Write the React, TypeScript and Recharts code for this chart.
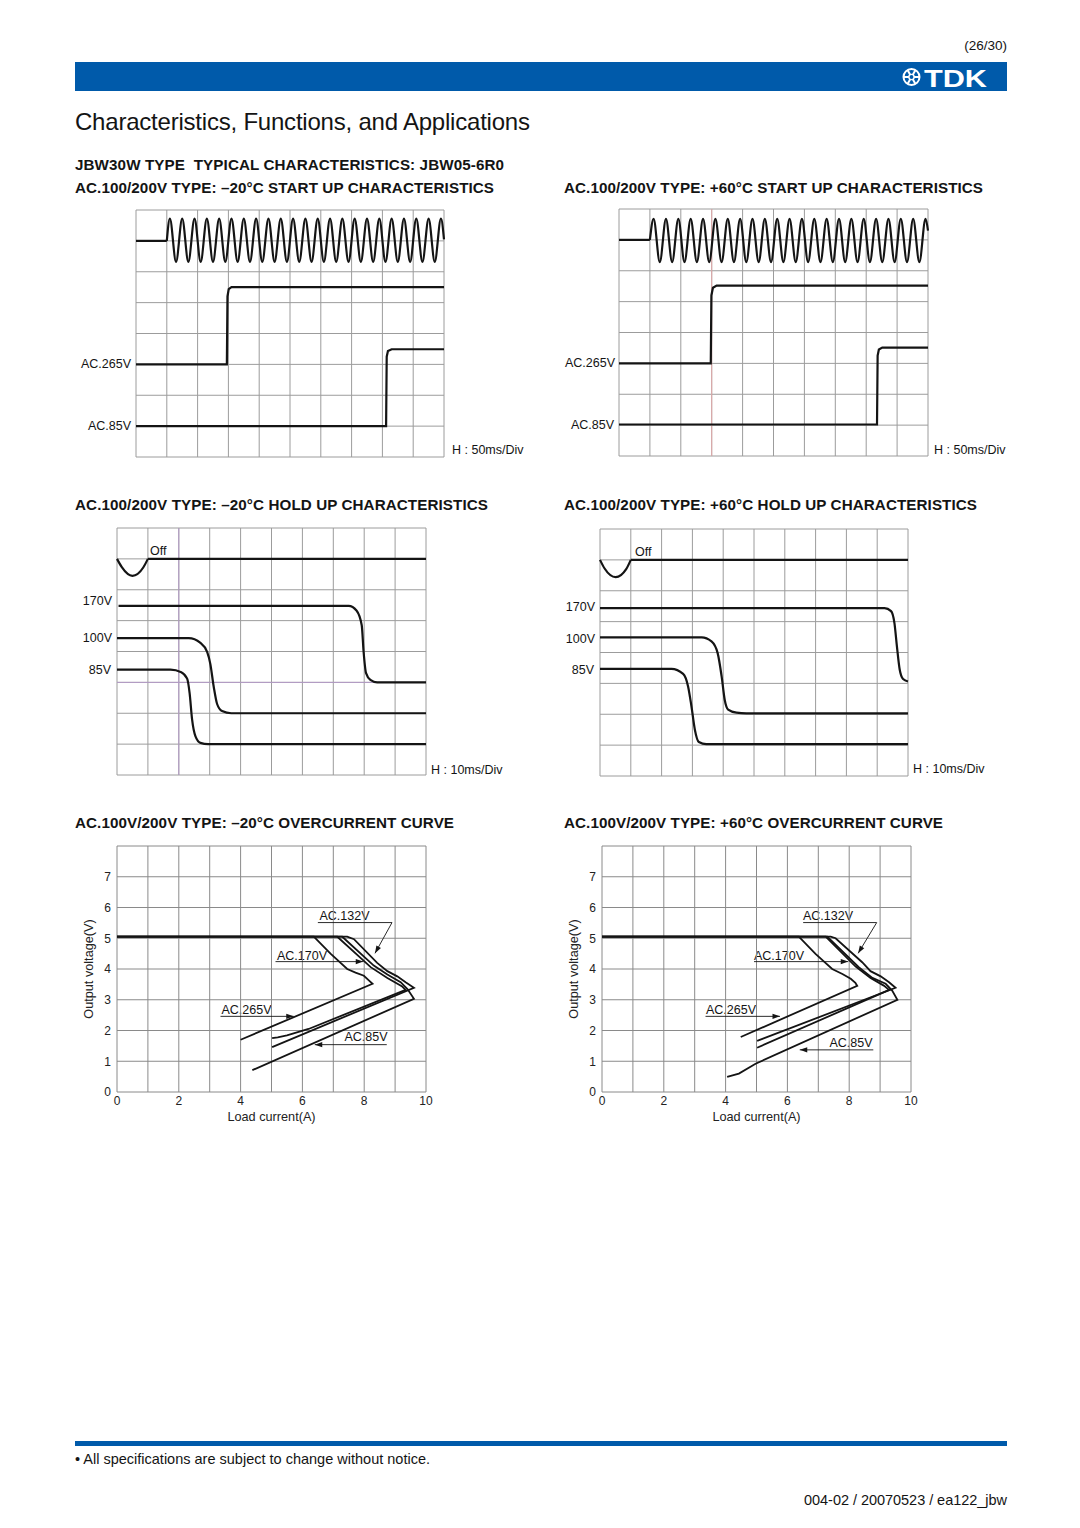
import React from 'react';
import { LineChart, Line, XAxis, YAxis, CartesianGrid, ReferenceLine } from 'recharts';

type Pt = [number, number];

// ---------- grid ticks ----------
const scopeXTicks = [0, 1, 2, 3, 4, 5, 6, 7, 8, 9, 10];
const scopeYTicks = [0, 1, 2, 3, 4, 5, 6, 7, 8];
const ocXTicks = [0, 1, 2, 3, 4, 5, 6, 7, 8, 9, 10];
const ocYTicks = [0, 1, 2, 3, 4, 5, 6, 7, 8];

// ---------- -20°C start up (H: 50ms/Div) ----------
const su20AcIdle: Pt[] = [[0, 7], [1, 7]];
const su20AcWave: Pt[] = [
  [1, 7], [1.1, 7.72], [1.3, 6.32], [1.5, 7.72], [1.7, 6.32], [1.9, 7.72], [2.1, 6.32], [2.3, 7.72],
  [2.5, 6.32], [2.7, 7.72], [2.9, 6.32], [3.1, 7.72], [3.3, 6.32], [3.5, 7.72], [3.7, 6.32], [3.9, 7.72],
  [4.1, 6.32], [4.3, 7.72], [4.5, 6.32], [4.7, 7.72], [4.9, 6.32], [5.1, 7.72], [5.3, 6.32], [5.5, 7.72],
  [5.7, 6.32], [5.9, 7.72], [6.1, 6.32], [6.3, 7.72], [6.5, 6.32], [6.7, 7.72], [6.9, 6.32], [7.1, 7.72],
  [7.3, 6.32], [7.5, 7.72], [7.7, 6.32], [7.9, 7.72], [8.1, 6.32], [8.3, 7.72], [8.5, 6.32], [8.7, 7.72],
  [8.9, 6.32], [9.1, 7.72], [9.3, 6.32], [9.5, 7.72], [9.7, 6.32], [9.9, 7.72], [10, 7.05],
];
const su20Out265: Pt[] = [[0, 3], [2.95, 3], [2.97, 5.2], [3.01, 5.44], [3.1, 5.5], [10, 5.5]];
const su20Out85: Pt[] = [[0, 1], [8.12, 1], [8.14, 3.25], [8.18, 3.43], [8.3, 3.49], [10, 3.49]];

// ---------- +60°C start up (H: 50ms/Div) ----------
const su60AcIdle: Pt[] = [[0, 7], [1, 7]];
const su60AcWave: Pt[] = [
  [1, 7], [1.12, 7.68], [1.32, 6.28], [1.52, 7.68], [1.72, 6.28], [1.92, 7.68], [2.12, 6.28], [2.32, 7.68],
  [2.52, 6.28], [2.72, 7.68], [2.92, 6.28], [3.12, 7.68], [3.32, 6.28], [3.52, 7.68], [3.72, 6.28], [3.92, 7.68],
  [4.12, 6.28], [4.32, 7.68], [4.52, 6.28], [4.72, 7.68], [4.92, 6.28], [5.12, 7.68], [5.32, 6.28], [5.52, 7.68],
  [5.72, 6.28], [5.92, 7.68], [6.12, 6.28], [6.32, 7.68], [6.52, 6.28], [6.72, 7.68], [6.92, 6.28], [7.12, 7.68],
  [7.32, 6.28], [7.52, 7.68], [7.72, 6.28], [7.92, 7.68], [8.12, 6.28], [8.32, 7.68], [8.52, 6.28], [8.72, 7.68],
  [8.92, 6.28], [9.12, 7.68], [9.32, 6.28], [9.52, 7.68], [9.72, 6.28], [9.92, 7.68], [10, 7.3],
];
const su60Out265: Pt[] = [[0, 3], [2.97, 3], [2.99, 5.2], [3.04, 5.45], [3.16, 5.52], [10, 5.52]];
const su60Out85: Pt[] = [[0, 1.02], [8.35, 1.02], [8.37, 3.25], [8.41, 3.45], [8.52, 3.51], [10, 3.51]];

// ---------- -20°C hold up (H: 10ms/Div) ----------
const hu20AcDip: Pt[] = [[0, 7], [0.15, 6.74], [0.5, 6.45], [0.85, 6.72], [1, 7]];
const hu20AcOff: Pt[] = [[1, 7], [10, 7]];
const hu20Out170: Pt[] = [[0.05, 5.48], [7.5, 5.48], [7.75, 5.33], [7.92, 4.85], [7.98, 4.0], [8.06, 3.3], [8.2, 3.08], [8.42, 3.0], [10, 3.0]];
const hu20Out100: Pt[] = [[0, 4.43], [2.32, 4.43], [2.7, 4.28], [2.92, 3.98], [3.02, 3.6], [3.13, 2.86], [3.24, 2.3], [3.4, 2.07], [3.7, 2.0], [10, 2.0]];
const hu20Out85: Pt[] = [[0, 3.41], [1.73, 3.41], [2.08, 3.33], [2.27, 3.12], [2.35, 2.65], [2.43, 1.8], [2.54, 1.25], [2.7, 1.04], [2.95, 1.0], [10, 1.0]];

// ---------- +60°C hold up (H: 10ms/Div) ----------
const hu60AcDip: Pt[] = [[0, 7], [0.15, 6.72], [0.51, 6.44], [0.85, 6.7], [1, 7]];
const hu60AcOff: Pt[] = [[1, 7], [10, 7]];
const hu60Out170: Pt[] = [[0, 5.44], [9.24, 5.44], [9.45, 5.34], [9.56, 4.95], [9.64, 4.2], [9.73, 3.45], [9.84, 3.14], [10, 3.06]];
const hu60Out100: Pt[] = [[0, 4.49], [3.3, 4.49], [3.62, 4.36], [3.82, 3.98], [3.95, 3.22], [4.05, 2.46], [4.16, 2.15], [4.43, 2.05], [4.75, 2.03], [10, 2.03]];
const hu60Out85: Pt[] = [[0, 3.47], [2.32, 3.47], [2.7, 3.31], [2.86, 2.9], [2.97, 2.25], [3.08, 1.5], [3.21, 1.1], [3.45, 1.03], [10, 1.03]];

// ---------- -20°C overcurrent (A, V) ----------
const oc20Ac265: Pt[] = [[0, 5.05], [6.37, 5.05], [6.91, 4.5], [7.45, 4.0], [7.72, 3.88], [7.99, 3.78], [8.15, 3.63], [8.27, 3.52], [4.0, 1.7]];
const oc20Ac170: Pt[] = [[0, 5.05], [7.13, 5.05], [8.21, 4.06], [8.75, 3.71], [9.23, 3.43], [9.34, 3.32], [6.2, 2.05], [5.5, 1.84], [5.2, 1.78], [5.02, 1.75]];
const oc20Ac132: Pt[] = [[0, 5.05], [7.45, 5.05], [7.67, 4.97], [8.42, 4.2], [8.75, 3.93], [9.07, 3.76], [9.34, 3.57], [9.61, 3.39], [5.02, 1.46]];
const oc20Ac85: Pt[] = [[0, 5.05], [7.29, 5.05], [8.31, 4.11], [8.75, 3.82], [9.18, 3.57], [9.4, 3.35], [9.61, 3.03], [4.38, 0.71]];
const oc20Lead132: Pt[] = [[6.5, 5.51], [8.9, 5.51], [8.35, 4.51]];
const oc20Lead170: Pt[] = [[5.13, 4.24], [7.97, 4.24]];
const oc20Lead265: Pt[] = [[3.35, 2.46], [5.72, 2.46]];
const oc20Lead85: Pt[] = [[8.73, 1.54], [6.4, 1.54]];

// ---------- +60°C overcurrent (A, V) ----------
const oc60Ac265: Pt[] = [[0, 5.05], [6.37, 5.05], [6.91, 4.49], [7.45, 4.0], [7.78, 3.84], [8.05, 3.68], [8.2, 3.55], [8.26, 3.45], [4.49, 1.79]];
const oc60Ac170: Pt[] = [[0, 5.05], [7.24, 5.05], [8.21, 4.08], [8.69, 3.71], [9.12, 3.46], [9.29, 3.32], [5.02, 1.44]];
const oc60Ac132: Pt[] = [[0, 5.05], [7.4, 5.05], [7.56, 5.0], [8.42, 4.22], [8.69, 3.93], [9.02, 3.76], [9.29, 3.57], [9.5, 3.39], [5.02, 1.66]];
const oc60Ac85: Pt[] = [[0, 5.05], [7.29, 5.05], [8.31, 4.06], [8.75, 3.71], [9.18, 3.52], [9.39, 3.3], [9.56, 3.0], [4.97, 0.92], [4.43, 0.6], [4.05, 0.49]];
const oc60Lead132: Pt[] = [[6.51, 5.51], [8.89, 5.51], [8.29, 4.51]];
const oc60Lead170: Pt[] = [[4.92, 4.24], [7.97, 4.24]];
const oc60Lead265: Pt[] = [[3.35, 2.46], [5.76, 2.46]];
const oc60Lead85: Pt[] = [[8.78, 1.37], [6.4, 1.37]];

// ---------- styles ----------
const FONT = '"Liberation Sans", Arial, Helvetica, sans-serif';
const INK = '#141414';
const BLUE = '#005AAA';
const GRID = '#9c9c9c';
const OC_GRID = '#8a8a8a';

const toXY = (d: Pt[]) => d.map(([x, y]) => ({ x, y }));

type Curve = 'linear' | 'monotone';
type Series = { d: Pt[]; curve: Curve };
type RefL = { axis: 'x' | 'y'; v: number; color: string };

function Scope({ left, top, w, h, series, refs = [] }: { left: number; top: number; w: number; h: number; series: Series[]; refs?: RefL[] }) {
  const m = 3;
  return (
    <div style={{ position: 'absolute', left: left - m, top: top - m }}>
      <LineChart width={w + 2 * m} height={h + 2 * m} margin={{ top: m, right: m, bottom: m, left: m }}>
        <CartesianGrid stroke={GRID} strokeWidth={1} />
        <XAxis type="number" dataKey="x" domain={[0, 10]} ticks={scopeXTicks} hide />
        <YAxis type="number" dataKey="y" domain={[0, 8]} ticks={scopeYTicks} hide />
        {refs.map((r, i) =>
          r.axis === 'x' ? (
            <ReferenceLine key={'r' + i} x={r.v} stroke={r.color} strokeWidth={1} />
          ) : (
            <ReferenceLine key={'r' + i} y={r.v} stroke={r.color} strokeWidth={1} />
          )
        )}
        {series.map((s, i) => (
          <Line
            key={i}
            data={toXY(s.d)}
            dataKey="y"
            type={s.curve}
            stroke={INK}
            strokeWidth={2.2}
            dot={false}
            activeDot={false}
            isAnimationActive={false}
          />
        ))}
      </LineChart>
    </div>
  );
}

type Lead = { d: Pt[]; angle: number };

const arrowDot = (last: number, angle: number) => (p: any) =>
  p.index === last ? (
    <path
      key={'a' + p.index}
      d="M0,0 L-7.5,-2.6 L-7.5,2.6 Z"
      transform={`translate(${p.cx},${p.cy}) rotate(${angle})`}
      fill={INK}
    />
  ) : (
    <g key={'a' + p.index} />
  );

function OcChart({ left, top, series, leads }: { left: number; top: number; series: Pt[][]; leads: Lead[] }) {
  const W = 309;
  const H = 246;
  const axW = 58;
  const axH = 34;
  const mt = 6;
  const mr = 14;
  return (
    <div style={{ position: 'absolute', left: left - axW, top: top - mt }}>
      <LineChart width={axW + W + mr} height={mt + H + axH} margin={{ top: mt, right: mr, bottom: 0, left: 0 }}>
        <CartesianGrid stroke={OC_GRID} strokeWidth={1} />
        <XAxis
          type="number"
          dataKey="x"
          domain={[0, 10]}
          ticks={ocXTicks}
          interval={0}
          axisLine={false}
          tickLine={false}
          tickSize={2}
          tickMargin={2}
          height={axH}
          tick={{ fontSize: 12, fill: '#222', fontFamily: FONT }}
          tickFormatter={(v: number) => (v % 2 === 0 ? String(v) : '')}
          label={{ value: 'Load current(A)', position: 'insideBottom', offset: 5, fontSize: 12.7, fill: '#222', fontFamily: FONT }}
        />
        <YAxis
          type="number"
          dataKey="y"
          domain={[0, 8]}
          ticks={ocYTicks}
          interval={0}
          axisLine={false}
          tickLine={false}
          tickSize={4}
          tickMargin={2}
          width={axW}
          tick={{ fontSize: 12, fill: '#222', fontFamily: FONT }}
          tickFormatter={(v: number) => (v === 8 ? '' : String(v))}
          label={{ value: 'Output voltage(V)', angle: -90, position: 'center', fontSize: 12.7, fill: '#222', fontFamily: FONT }}
        />
        {series.map((d, i) => (
          <Line
            key={'s' + i}
            data={toXY(d)}
            dataKey="y"
            type="linear"
            stroke={INK}
            strokeWidth={1.8}
            dot={false}
            activeDot={false}
            isAnimationActive={false}
          />
        ))}
        {leads.map((l, i) => (
          <Line
            key={'l' + i}
            data={toXY(l.d)}
            dataKey="y"
            type="linear"
            stroke={INK}
            strokeWidth={0.9}
            dot={arrowDot(l.d.length - 1, l.angle)}
            activeDot={false}
            isAnimationActive={false}
          />
        ))}
      </LineChart>
    </div>
  );
}

type Txt = { t: string; x: number; y: number; a?: 'start' | 'middle' | 'end'; s?: number; b?: boolean; w?: number; fill?: string };

const headings: Txt[] = [
  { t: 'JBW30W TYPE  TYPICAL CHARACTERISTICS: JBW05-6R0', x: 75, y: 170, w: 429 },
  { t: 'AC.100/200V TYPE: \u201320\u00B0C START UP CHARACTERISTICS', x: 75, y: 193, w: 419 },
  { t: 'AC.100/200V TYPE: +60\u00B0C START UP CHARACTERISTICS', x: 564, y: 193, w: 419 },
  { t: 'AC.100/200V TYPE: \u201320\u00B0C HOLD UP CHARACTERISTICS', x: 75, y: 510, w: 413 },
  { t: 'AC.100/200V TYPE: +60\u00B0C HOLD UP CHARACTERISTICS', x: 564, y: 510, w: 413 },
  { t: 'AC.100V/200V TYPE: \u201320\u00B0C OVERCURRENT CURVE', x: 75, y: 828, w: 379 },
  { t: 'AC.100V/200V TYPE: +60\u00B0C OVERCURRENT CURVE', x: 564, y: 828, w: 379 },
];

const chartLabels: Txt[] = [
  { t: 'AC.265V', x: 131, y: 368, a: 'end' },
  { t: 'AC.85V', x: 131, y: 430, a: 'end' },
  { t: 'H : 50ms/Div', x: 452, y: 454 },
  { t: 'AC.265V', x: 615, y: 367, a: 'end' },
  { t: 'AC.85V', x: 614, y: 429, a: 'end' },
  { t: 'H : 50ms/Div', x: 934, y: 454 },
  { t: 'Off', x: 150, y: 555 },
  { t: '170V', x: 112, y: 605, a: 'end' },
  { t: '100V', x: 112, y: 642, a: 'end' },
  { t: '85V', x: 111, y: 674, a: 'end' },
  { t: 'H : 10ms/Div', x: 431, y: 774 },
  { t: 'Off', x: 635, y: 556 },
  { t: '170V', x: 595, y: 611, a: 'end' },
  { t: '100V', x: 595, y: 643, a: 'end' },
  { t: '85V', x: 594, y: 673.5, a: 'end' },
  { t: 'H : 10ms/Div', x: 913, y: 773 },
  { t: 'AC.132V', x: 344.5, y: 920, a: 'middle' },
  { t: 'AC.170V', x: 302, y: 959.5, a: 'middle' },
  { t: 'AC.265V', x: 246.5, y: 1014, a: 'middle' },
  { t: 'AC.85V', x: 366, y: 1041, a: 'middle' },
  { t: 'AC.132V', x: 828, y: 920, a: 'middle' },
  { t: 'AC.170V', x: 779, y: 959.5, a: 'middle' },
  { t: 'AC.265V', x: 731, y: 1014, a: 'middle' },
  { t: 'AC.85V', x: 851, y: 1047, a: 'middle' },
];

function T({ d, size, bold }: { d: Txt; size: number; bold?: boolean }) {
  return (
    <text
      x={d.x}
      y={d.y}
      fontSize={d.s ?? size}
      textAnchor={d.a ?? 'start'}
      fontWeight={bold ? 700 : 400}
      fill={d.fill ?? '#141414'}
      textLength={d.w}
      lengthAdjust={d.w ? 'spacing' : undefined}
      style={{ whiteSpace: 'pre' }}
    >
      {d.t}
    </text>
  );
}

export default function App() {
  return (
    <div style={{ position: 'absolute', left: 0, top: 0, width: 1080, height: 1528, background: '#fff', overflow: 'hidden', fontFamily: FONT }}>
      <svg width={1080} height={1528} style={{ position: 'absolute', left: 0, top: 0 }} fontFamily={FONT}>
        <T d={{ t: '(26/30)', x: 1007, y: 49.5, a: 'end' }} size={13.5} />
        <rect x={75} y={62} width={932} height={29} fill={BLUE} />
        <g stroke="#fff" fill="none" strokeWidth={2}>
          <circle cx={911.5} cy={77} r={8} />
          <line x1={903.5} y1={77} x2={919.5} y2={77} />
          <line x1={907.5} y1={70} x2={915.5} y2={84} />
          <line x1={915.5} y1={70} x2={907.5} y2={84} />
        </g>
        <circle cx={911.5} cy={77} r={2.6} fill={BLUE} stroke="#fff" strokeWidth={1.4} />
        <text x={924} y={86.5} fontSize={23} fontWeight={900} fill="#fff" textLength={63} lengthAdjust="spacingAndGlyphs">
          TDK
        </text>
        <T d={{ t: 'Characteristics, Functions, and Applications', x: 75, y: 130, w: 455 }} size={24} />
        {headings.map((h, i) => (
          <T key={'h' + i} d={h} size={15.2} bold />
        ))}
        {chartLabels.map((c, i) => (
          <T key={'c' + i} d={c} size={12.5} />
        ))}
        <rect x={75} y={1441} width={932} height={5} fill={BLUE} />
        <T d={{ t: '\u2022 All specifications are subject to change without notice.', x: 75, y: 1464, w: 355 }} size={14.5} />
        <T d={{ t: '004-02 / 20070523 / ea122_jbw', x: 1007, y: 1504.5, a: 'end', w: 203 }} size={14.5} />
      </svg>

      <Scope
        left={136}
        top={210}
        w={308}
        h={247}
        series={[
          { d: su20AcIdle, curve: 'linear' },
          { d: su20AcWave, curve: 'monotone' },
          { d: su20Out265, curve: 'linear' },
          { d: su20Out85, curve: 'linear' },
        ]}
      />
      <Scope
        left={619}
        top={209}
        w={309}
        h={247}
        refs={[{ axis: 'x', v: 3, color: '#e2a9a9' }]}
        series={[
          { d: su60AcIdle, curve: 'linear' },
          { d: su60AcWave, curve: 'monotone' },
          { d: su60Out265, curve: 'linear' },
          { d: su60Out85, curve: 'linear' },
        ]}
      />
      <Scope
        left={117}
        top={528}
        w={309}
        h={247}
        refs={[
          { axis: 'x', v: 2, color: '#b39ac6' },
          { axis: 'y', v: 3, color: '#b39ac6' },
        ]}
        series={[
          { d: hu20AcDip, curve: 'monotone' },
          { d: hu20AcOff, curve: 'linear' },
          { d: hu20Out170, curve: 'monotone' },
          { d: hu20Out100, curve: 'monotone' },
          { d: hu20Out85, curve: 'monotone' },
        ]}
      />
      <Scope
        left={600}
        top={529}
        w={308}
        h={247}
        series={[
          { d: hu60AcDip, curve: 'monotone' },
          { d: hu60AcOff, curve: 'linear' },
          { d: hu60Out170, curve: 'monotone' },
          { d: hu60Out100, curve: 'monotone' },
          { d: hu60Out85, curve: 'monotone' },
        ]}
      />
      <OcChart
        left={117}
        top={846}
        series={[oc20Ac265, oc20Ac170, oc20Ac132, oc20Ac85]}
        leads={[
          { d: oc20Lead132, angle: 119 },
          { d: oc20Lead170, angle: 0 },
          { d: oc20Lead265, angle: 0 },
          { d: oc20Lead85, angle: 180 },
        ]}
      />
      <OcChart
        left={602}
        top={846}
        series={[oc60Ac265, oc60Ac170, oc60Ac132, oc60Ac85]}
        leads={[
          { d: oc60Lead132, angle: 121 },
          { d: oc60Lead170, angle: 0 },
          { d: oc60Lead265, angle: 0 },
          { d: oc60Lead85, angle: 180 },
        ]}
      />
    </div>
  );
}
